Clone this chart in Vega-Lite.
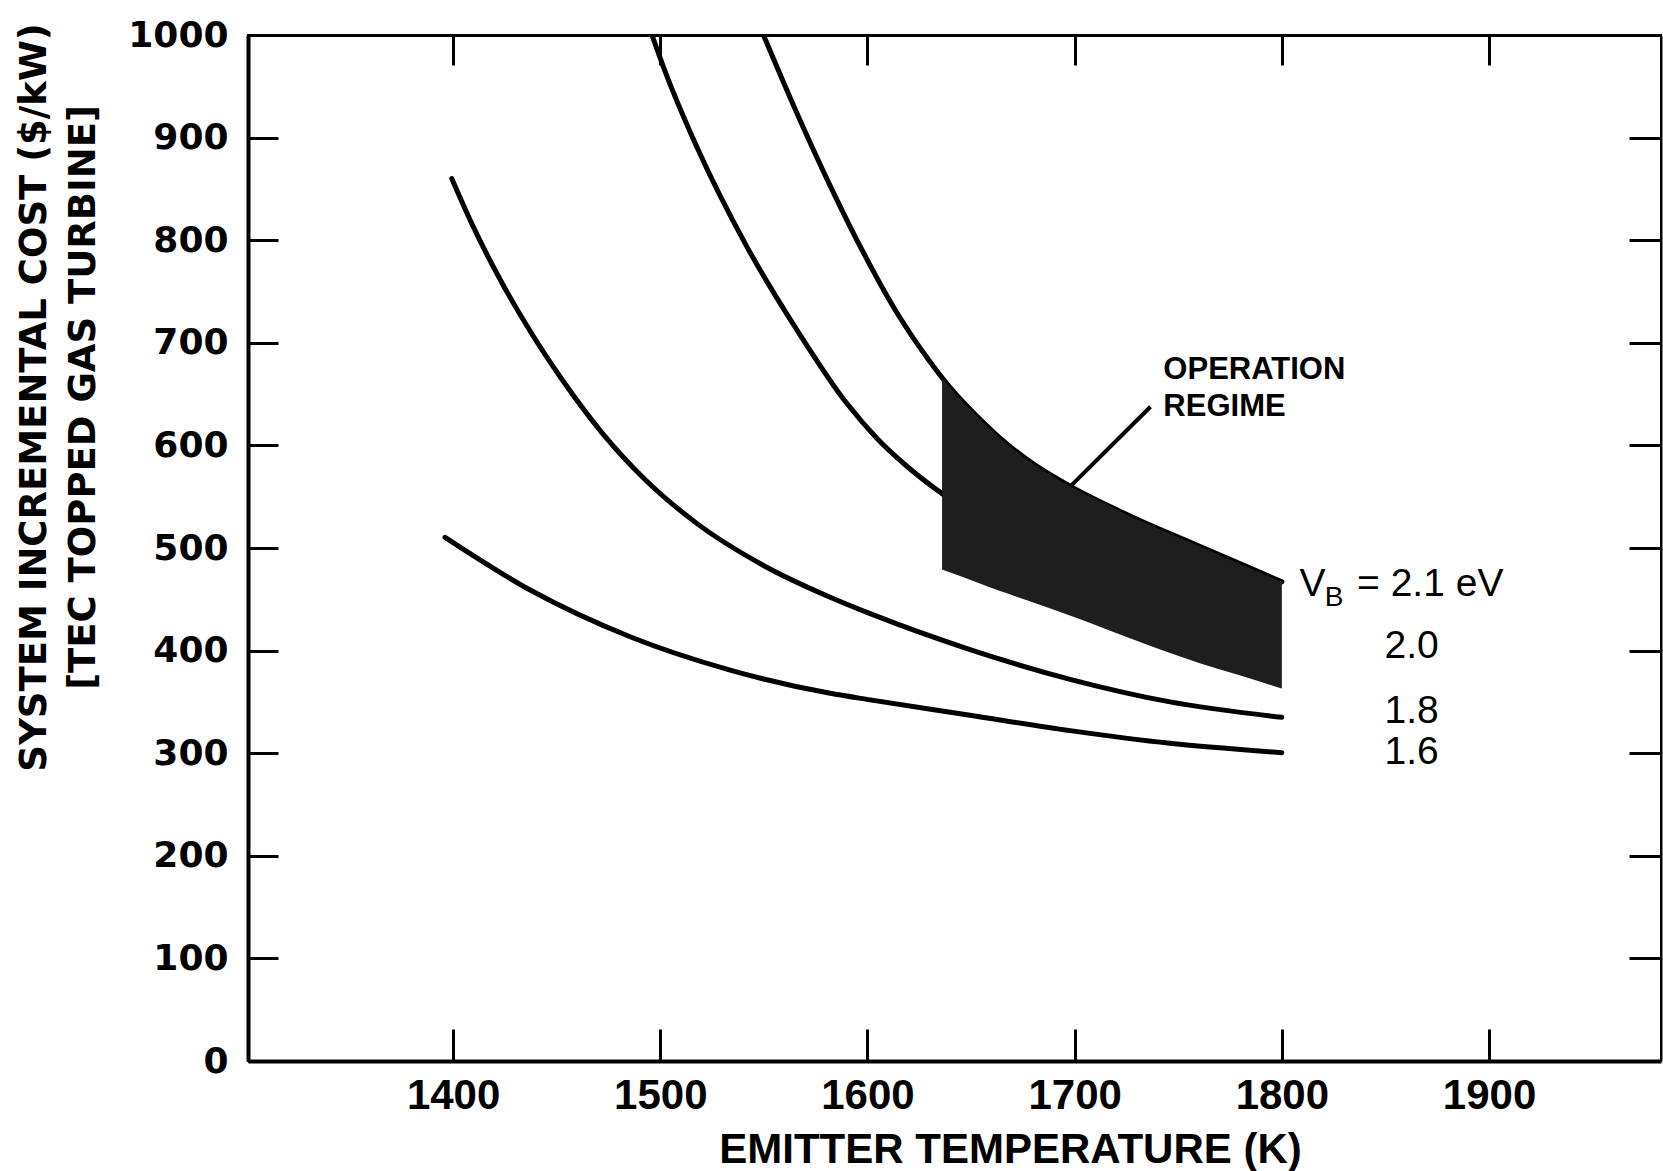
{
  "$schema": "https://vega.github.io/schema/vega-lite/v6.json",
  "width": 1413,
  "height": 1026,
  "autosize": "none",
  "padding": {"left": 248, "top": 35, "right": 2, "bottom": 110},
  "background": "white",
  "config": {
    "view": {"stroke": "black", "strokeWidth": 2},
    "axis": {"grid": false, "domainColor": "black", "tickColor": "black", "labelColor": "black", "titleColor": "black"}
  },
  "datasets": {
    "curves": [
      {"vb": "1.6", "t": 1396.1, "c": 510.4},
      {"vb": "1.6", "t": 1437.2, "c": 459},
      {"vb": "1.6", "t": 1485.4, "c": 413.5},
      {"vb": "1.6", "t": 1533.7, "c": 381},
      {"vb": "1.6", "t": 1582, "c": 358.4},
      {"vb": "1.6", "t": 1601.3, "c": 352},
      {"vb": "1.6", "t": 1649.5, "c": 337},
      {"vb": "1.6", "t": 1697.8, "c": 322},
      {"vb": "1.6", "t": 1746, "c": 309.6},
      {"vb": "1.6", "t": 1800, "c": 300.5},
      {"vb": "1.8", "t": 1399.4, "c": 860},
      {"vb": "1.8", "t": 1410, "c": 812},
      {"vb": "1.8", "t": 1421, "c": 768},
      {"vb": "1.8", "t": 1437, "c": 712},
      {"vb": "1.8", "t": 1453, "c": 663},
      {"vb": "1.8", "t": 1472, "c": 612},
      {"vb": "1.8", "t": 1492.5, "c": 567},
      {"vb": "1.8", "t": 1517.6, "c": 524},
      {"vb": "1.8", "t": 1549.8, "c": 483},
      {"vb": "1.8", "t": 1582, "c": 452},
      {"vb": "1.8", "t": 1601.3, "c": 436},
      {"vb": "1.8", "t": 1649.5, "c": 401},
      {"vb": "1.8", "t": 1697.8, "c": 372},
      {"vb": "1.8", "t": 1746, "c": 350},
      {"vb": "1.8", "t": 1800, "c": 335},
      {"vb": "2.0", "t": 1496, "c": 1000},
      {"vb": "2.0", "t": 1501.5, "c": 969},
      {"vb": "2.0", "t": 1517.6, "c": 891},
      {"vb": "2.0", "t": 1541.7, "c": 794},
      {"vb": "2.0", "t": 1565.9, "c": 712.7},
      {"vb": "2.0", "t": 1590, "c": 641},
      {"vb": "2.0", "t": 1604.5, "c": 607},
      {"vb": "2.0", "t": 1620, "c": 578},
      {"vb": "2.0", "t": 1636, "c": 553},
      {"vb": "2.0", "t": 1650, "c": 534},
      {"vb": "2.0", "t": 1675, "c": 508},
      {"vb": "2.0", "t": 1700, "c": 487},
      {"vb": "2.0", "t": 1750, "c": 453},
      {"vb": "2.0", "t": 1796, "c": 426},
      {"vb": "2.1", "t": 1549.8, "c": 1000},
      {"vb": "2.1", "t": 1565.9, "c": 924},
      {"vb": "2.1", "t": 1582, "c": 853},
      {"vb": "2.1", "t": 1598, "c": 788},
      {"vb": "2.1", "t": 1614, "c": 730},
      {"vb": "2.1", "t": 1630, "c": 682},
      {"vb": "2.1", "t": 1640, "c": 656},
      {"vb": "2.1", "t": 1652, "c": 630},
      {"vb": "2.1", "t": 1664, "c": 607},
      {"vb": "2.1", "t": 1680, "c": 582},
      {"vb": "2.1", "t": 1698, "c": 560},
      {"vb": "2.1", "t": 1728, "c": 530},
      {"vb": "2.1", "t": 1760, "c": 502},
      {"vb": "2.1", "t": 1800, "c": 467}
    ],
    "regime": [
      {"t": 1636, "top": 666, "bottom": 479},
      {"t": 1640, "top": 656, "bottom": 476},
      {"t": 1652, "top": 630, "bottom": 467},
      {"t": 1664, "top": 607, "bottom": 458},
      {"t": 1680, "top": 582, "bottom": 447},
      {"t": 1698, "top": 560, "bottom": 434},
      {"t": 1710, "top": 548, "bottom": 425},
      {"t": 1728, "top": 530, "bottom": 411},
      {"t": 1760, "top": 502, "bottom": 388},
      {"t": 1778, "top": 486, "bottom": 377},
      {"t": 1800, "top": 467, "bottom": 363}
    ],
    "leader": [
      {"t1": 1736.6, "c1": 637.7, "t2": 1697.8, "c2": 559.8}
    ],
    "regimeText": [
      {"t": 1742.8, "c": 673.5, "label": "OPERATION"},
      {"t": 1742.8, "c": 637, "label": "REGIME"}
    ],
    "curveLabels": [
      {"t": 1862.6, "c": 404.5, "label": "2.0"},
      {"t": 1862.6, "c": 341, "label": "1.8"},
      {"t": 1862.6, "c": 301, "label": "1.6"}
    ],
    "vbV": [{"t": 1814.8, "c": 465, "label": "V"}],
    "vbB": [{"t": 1825.2, "c": 451.3, "label": "B"}],
    "vbRest": [{"t": 1836.3, "c": 465, "label": "= 2.1 eV"}]
  },
  "resolve": {"axis": {"x": "independent", "y": "independent"}},
  "layer": [
    {
      "data": {"name": "curves"},
      "mark": {"type": "line", "color": "black", "strokeWidth": 5, "strokeCap": "round", "strokeJoin": "round", "interpolate": "monotone", "clip": true},
      "encoding": {
        "x": {"field": "t", "type": "quantitative", "scale": {"domain": [1301, 1983], "nice": false, "zero": false},
          "axis": {"orient": "top", "values": [1400, 1500, 1600, 1700, 1800, 1900], "labels": false, "title": null, "tickSize": -30, "tickWidth": 3, "domainWidth": 3}},
        "y": {"field": "c", "type": "quantitative", "scale": {"domain": [0, 1000], "nice": false},
          "axis": {"orient": "right", "values": [100, 200, 300, 400, 500, 600, 700, 800, 900], "labels": false, "title": null, "tickSize": -32, "tickWidth": 3, "domainWidth": 2}},
        "detail": {"field": "vb", "type": "nominal"}
      }
    },
    {
      "data": {"name": "regime"},
      "mark": {"type": "area", "color": "#1e1e1e", "opacity": 1, "interpolate": "monotone"},
      "encoding": {
        "x": {"field": "t", "type": "quantitative",
          "axis": {"orient": "bottom", "values": [1400, 1500, 1600, 1700, 1800, 1900], "format": "d", "tickSize": -32, "tickWidth": 3, "domainWidth": 4,
            "labelFont": "Liberation Sans", "labelFontWeight": "bold", "labelFontSize": 42, "labelBaseline": "middle", "labelPadding": 66,
            "labelOverlap": false, "labelFlush": false,
            "title": "EMITTER TEMPERATURE (K)", "titleFont": "Liberation Sans", "titleFontWeight": "bold", "titleFontSize": 42,
            "titleX": 762, "titleY": 88, "titleAlign": "center", "titleBaseline": "middle", "titleAngle": 0}},
        "y": {"field": "top", "type": "quantitative",
          "axis": {"orient": "left", "values": [0, 100, 200, 300, 400, 500, 600, 700, 800, 900, 1000], "format": "d", "tickSize": -30, "tickWidth": 3, "domainWidth": 4,
            "labelFont": "DejaVu Sans", "labelFontWeight": "bold", "labelFontSize": 36, "labelPadding": 50, "labelBaseline": "middle",
            "labelOverlap": false, "labelFlush": false,
            "title": ["SYSTEM INCREMENTAL COST ($/kW)", "[TEC TOPPED GAS TURBINE]"],
            "titleFont": "DejaVu Sans", "titleFontWeight": "bold", "titleFontSize": 37, "titleLineHeight": 49,
            "titleX": -214, "titleY": 362, "titleAngle": -90, "titleAlign": "center", "titleBaseline": "middle"}},
        "y2": {"field": "bottom"}
      }
    },
    {
      "data": {"name": "leader"},
      "mark": {"type": "rule", "color": "black", "strokeWidth": 4},
      "encoding": {
        "x": {"field": "t1", "type": "quantitative", "axis": null},
        "y": {"field": "c1", "type": "quantitative", "axis": null},
        "x2": {"field": "t2"},
        "y2": {"field": "c2"}
      }
    },
    {
      "data": {"name": "regimeText"},
      "mark": {"type": "text", "font": "Liberation Sans", "fontWeight": "bold", "fontSize": 31, "align": "left", "baseline": "middle", "color": "black"},
      "encoding": {
        "x": {"field": "t", "type": "quantitative", "axis": null},
        "y": {"field": "c", "type": "quantitative", "axis": null},
        "text": {"field": "label"}
      }
    },
    {
      "data": {"name": "curveLabels"},
      "mark": {"type": "text", "font": "Liberation Sans", "fontSize": 39, "align": "center", "baseline": "middle", "color": "black"},
      "encoding": {
        "x": {"field": "t", "type": "quantitative", "axis": null},
        "y": {"field": "c", "type": "quantitative", "axis": null},
        "text": {"field": "label"}
      }
    },
    {
      "data": {"name": "vbV"},
      "mark": {"type": "text", "font": "Liberation Sans", "fontSize": 39, "align": "center", "baseline": "middle", "color": "black"},
      "encoding": {
        "x": {"field": "t", "type": "quantitative", "axis": null},
        "y": {"field": "c", "type": "quantitative", "axis": null},
        "text": {"field": "label"}
      }
    },
    {
      "data": {"name": "vbB"},
      "mark": {"type": "text", "font": "Liberation Sans", "fontSize": 28, "align": "center", "baseline": "middle", "color": "black"},
      "encoding": {
        "x": {"field": "t", "type": "quantitative", "axis": null},
        "y": {"field": "c", "type": "quantitative", "axis": null},
        "text": {"field": "label"}
      }
    },
    {
      "data": {"name": "vbRest"},
      "mark": {"type": "text", "font": "Liberation Sans", "fontSize": 39, "align": "left", "baseline": "middle", "color": "black"},
      "encoding": {
        "x": {"field": "t", "type": "quantitative", "axis": null},
        "y": {"field": "c", "type": "quantitative", "axis": null},
        "text": {"field": "label"}
      }
    }
  ]
}
